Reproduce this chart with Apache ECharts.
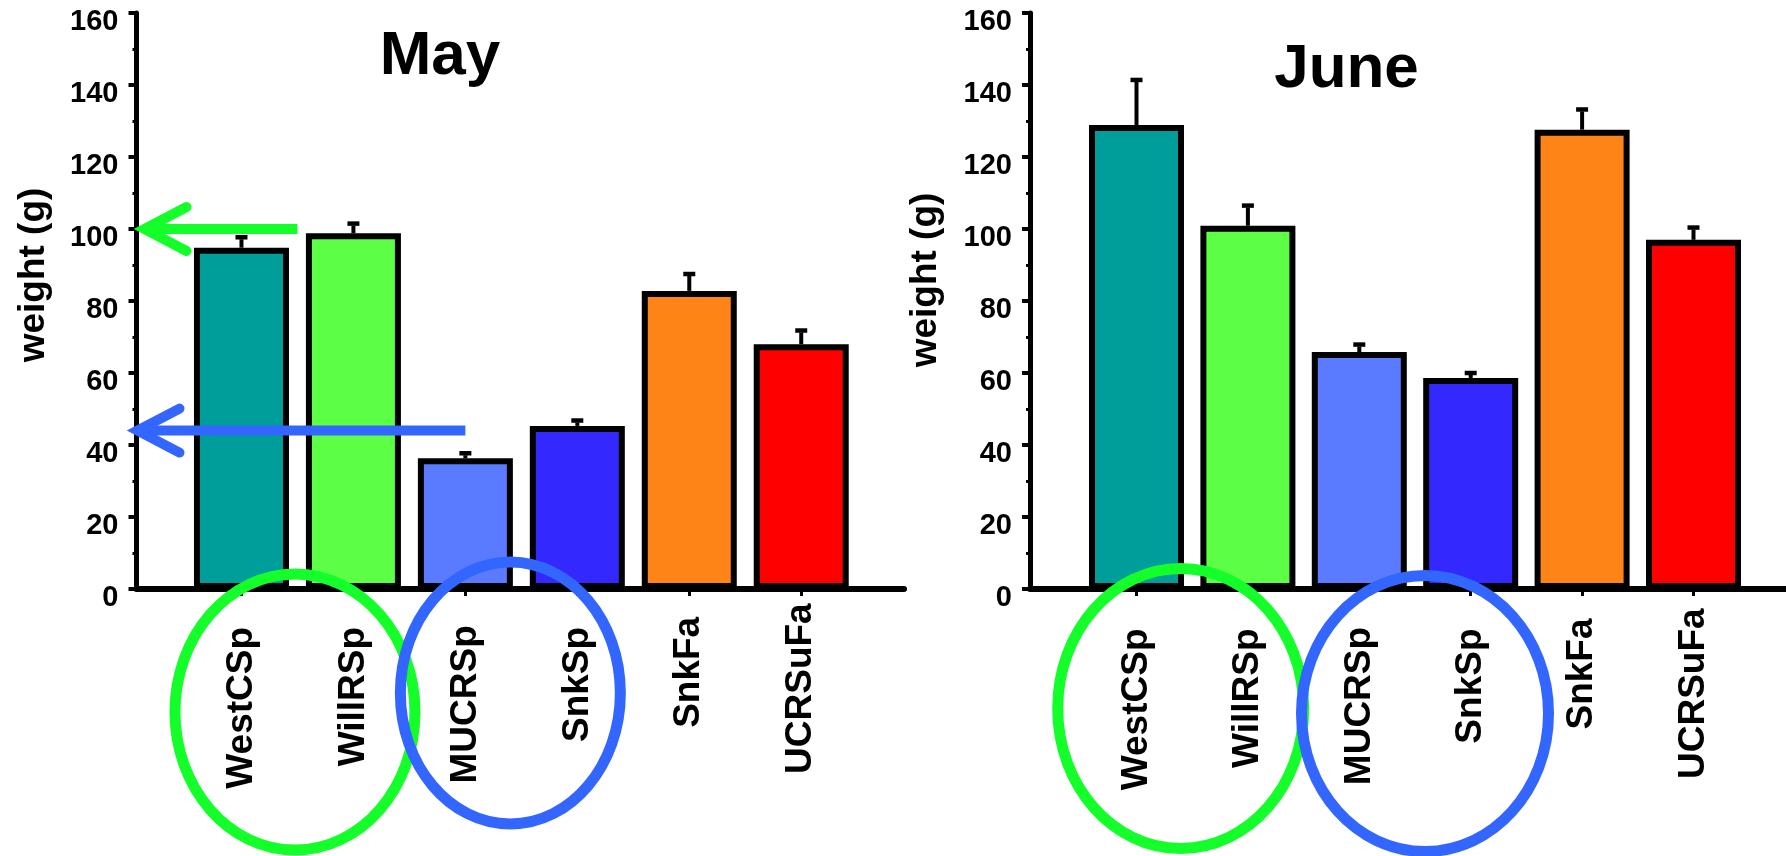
<!DOCTYPE html>
<html>
<head>
<meta charset="utf-8">
<script src="https://cdn.jsdelivr.net/npm/echarts@6/dist/echarts.min.js"></script>
<style>
  html, body { margin: 0; padding: 0; background: #fff; }
  #chart { width: 1786px; height: 856px; }
</style>
</head>
<body>
<div id="chart"></div>
<script>
// ---- data ----
const categories = ['WestCSp', 'WillRSp', 'MUCRSp', 'SnkSp', 'SnkFa', 'UCRSuFa'];
const mayWeight  = [94.8, 98.8, 36.3, 45.3, 82.8, 68];
const mayError   = [2.9, 2.7, 1.4, 1.5, 4.7, 3.8];
const juneWeight = [128.9, 100.9, 65.8, 58.6, 127.6, 97];
const juneError  = [12.5, 5.6, 2.1, 1.4, 5.6, 3.4];
const yMin = 0, yMax = 160, yStep = 20;
const panelTitles = ['May', 'June'];
const axisName = 'weight (g)';
// reference levels pointed at by the arrows in the May panel
const mayArrowLevels = [100, 44];

// ---- styling / layout ----
const FONT = '"Liberation Sans", Arial, Helvetica, sans-serif';
const barColors = ['#009e9a', '#5cff45', '#5a7bff', '#3329ff', '#ff8418', '#ff0000'];
const GREEN = '#14ff2a';
const BLUE = '#3366ff';
const GRID_TOP = 13, GRID_BOTTOM = 267;

const panels = [
  {
    title: panelTitles[0], titleX: 440, titleY: 26,
    frame: { left: 136.5, right: 882 },
    bars:  { left: 185.5, right: 928.8 },
    nameGap: 84, nameShift: 52,
    labelShift: [29.9, 29.9, 28.2, 29.9, 19.8, 6.3],
    values: mayWeight, errors: mayError
  },
  {
    title: panelTitles[1], titleX: 1346.5, titleY: 39,
    frame: { left: 1030, right: 0 },
    bars:  { left: 1080.8, right: 36.8 },
    nameGap: 86, nameShift: 42,
    labelShift: [31.5, 31.5, 29.9, 31.5, 21.5, 11.4],
    values: juneWeight, errors: juneError
  }
];

const grids = [], xAxes = [], yAxes = [], series = [], titles = [];

panels.forEach((p) => {
  const frameIdx = grids.length;
  grids.push({ left: p.frame.left, right: p.frame.right, top: GRID_TOP, bottom: GRID_BOTTOM });
  const barIdx = grids.length;
  grids.push({ left: p.bars.left, right: p.bars.right, top: GRID_TOP, bottom: GRID_BOTTOM });

  // frame: axis lines, y ticks and labels
  xAxes.push({
    gridIndex: frameIdx, type: 'value', min: 0, max: 1,
    axisLine: { show: true, lineStyle: { color: '#000', width: 6 } },
    axisTick: { show: false }, axisLabel: { show: false }, splitLine: { show: false }
  });
  yAxes.push({
    gridIndex: frameIdx, type: 'value', min: yMin, max: yMax, interval: yStep,
    name: axisName, nameLocation: 'middle', nameGap: p.nameGap,
    nameTextStyle: { fontFamily: FONT, fontSize: 37, fontWeight: 'bold', color: '#000', padding: [0, 0, 0, p.nameShift] },
    axisLine: { show: true, lineStyle: { color: '#000', width: 5 } },
    axisTick: { show: true, length: 8, lineStyle: { color: '#000', width: 4 } },
    minorTick: { show: true, splitNumber: 2, length: 4, lineStyle: { color: '#000', width: 3 } },
    axisLabel: {
      fontFamily: FONT, fontSize: 29, fontWeight: 'bold', color: '#000',
      margin: 18, verticalAlign: 'top', lineHeight: 18
    },
    splitLine: { show: false }
  });

  // bars: category axis carrying the rotated labels
  xAxes.push({
    gridIndex: barIdx, type: 'category', boundaryGap: true,
    data: categories.map((c, i) => ({ value: c, textStyle: { padding: [0, p.labelShift[i], 0, 0] } })),
    axisLine: { show: false },
    axisTick: { show: true, alignWithLabel: true, length: 7, lineStyle: { color: '#000', width: 3 } },
    axisLabel: { interval: 0, rotate: 90, margin: 8, fontFamily: FONT, fontSize: 37, fontWeight: 'bold', color: '#000' },
    splitLine: { show: false }
  });
  yAxes.push({ gridIndex: barIdx, type: 'value', min: yMin, max: yMax, show: false });

  const xi = xAxes.length - 1, yi = yAxes.length - 1;
  series.push({
    type: 'bar', xAxisIndex: xi, yAxisIndex: yi, barWidth: 95, z: 3,
    itemStyle: { borderColor: '#000', borderWidth: 6 },
    data: p.values.map((v, i) => ({ value: v, itemStyle: { color: barColors[i] } }))
  });
  series.push({
    type: 'custom', xAxisIndex: xi, yAxisIndex: yi, z: 4,
    encode: { x: 0, y: 1 },
    data: p.values.map((v, i) => [i, v, p.errors[i]]),
    renderItem: (params, api) => {
      const x = api.value(0), v = api.value(1), e = api.value(2);
      const base = api.coord([x, v]);
      const top = api.coord([x, v + e]);
      const half = 6;
      return {
        type: 'group',
        children: [
          { type: 'line', shape: { x1: base[0], y1: base[1], x2: top[0], y2: top[1] + 2 }, style: { stroke: '#000', lineWidth: 4 } },
          { type: 'line', shape: { x1: top[0] - half, y1: top[1], x2: top[0] + half, y2: top[1] }, style: { stroke: '#000', lineWidth: 4.5 } }
        ]
      };
    }
  });

  titles.push({
    text: p.title, left: p.titleX, top: p.titleY, textAlign: 'center', padding: 0,
    textStyle: { fontFamily: FONT, fontSize: 62, fontWeight: 'bold', color: '#000' }
  });
});

const chart = echarts.init(document.getElementById('chart'), null, { renderer: 'canvas' });
chart.setOption({
  animation: false,
  backgroundColor: '#fff',
  title: titles,
  grid: grids,
  xAxis: xAxes,
  yAxis: yAxes,
  series: series
});

// ---- annotations: arrows to reference levels and ellipses round label pairs ----
function catPx(axisIdx, i) {
  return chart.convertToPixel({ xAxisIndex: axisIdx }, categories[i]);
}
function framePx(frameIdx, v) {
  return chart.convertToPixel({ gridIndex: frameIdx }, [0, v]);
}

const graphics = [];

// arrows in the May panel: level, tail position (category units), tip offset, colour
const arrowSpecs = [
  { level: mayArrowLevels[0], tail: 0.5, tipOffset: 8, color: GREEN },
  { level: mayArrowLevels[1], tail: 2, tipOffset: 1, color: BLUE }
];
arrowSpecs.forEach(a => {
  const tip = framePx(0, a.level);
  const tipX = tip[0] + a.tipOffset, y = tip[1];
  const lo = Math.floor(a.tail), frac = a.tail - lo;
  const x0 = catPx(1, lo);
  const tailX = frac ? x0 + (catPx(1, lo + 1) - x0) * frac : x0;
  const armX = 42, armY = 22;
  graphics.push({
    type: 'line', z: 20,
    shape: { x1: tailX, y1: y, x2: tipX + 3, y2: y },
    style: { stroke: a.color, lineWidth: 10, lineCap: 'butt' }
  });
  graphics.push({
    type: 'polyline', z: 20,
    shape: { points: [[tipX + armX, y - armY], [tipX, y], [tipX + armX, y + armY]] },
    style: { stroke: a.color, lineWidth: 10, lineCap: 'round', lineJoin: 'miter', fill: null }
  });
});

// ellipses round label pairs: bar axis, first category, x shift, depth below axis, radii, colour
const ellipseSpecs = [
  { axis: 1, first: 0, dx: -2.5, dy: 123, rx: 120, ry: 138, color: GREEN },
  { axis: 1, first: 2, dx: -11,  dy: 104, rx: 110, ry: 131, color: BLUE },
  { axis: 3, first: 0, dx: -11.5, dy: 119.5, rx: 123, ry: 140, color: GREEN },
  { axis: 3, first: 2, dx: 10,  dy: 124.5, rx: 123.5, ry: 138, color: BLUE }
];
ellipseSpecs.forEach(e => {
  const cx = (catPx(e.axis, e.first) + catPx(e.axis, e.first + 1)) / 2 + e.dx;
  const axisY = framePx(e.axis - 1, 0)[1];
  graphics.push({
    type: 'ellipse', z: 20,
    shape: { cx: cx, cy: axisY + e.dy, rx: e.rx, ry: e.ry },
    style: { stroke: e.color, lineWidth: 11, fill: null }
  });
});

chart.setOption({ graphic: graphics });
</script>
</body>
</html>
